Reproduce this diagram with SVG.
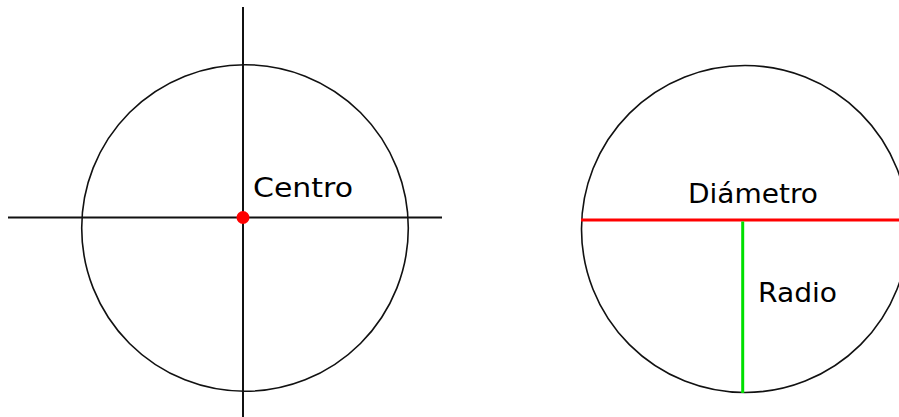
<svg xmlns="http://www.w3.org/2000/svg" width="899" height="417" viewBox="0 0 899 417">
<style>
.circ{fill:none;stroke:#111;stroke-width:1.6}
.axis{stroke:#111;stroke-width:2}
.lbl{font-family:"DejaVu Sans","Liberation Sans",sans-serif;font-size:26px;fill:#000}
</style>
<rect width="899" height="417" fill="#fff"/>
<g id="left-circle">
<circle class="circ" cx="245" cy="228" r="163.3"/>
</g>
<g id="axes">
<line class="axis" x1="243" y1="7" x2="243" y2="417"/>
<line class="axis" x1="8" y1="217.5" x2="442" y2="217.5"/>
</g>
<g id="center-point">
<circle cx="243" cy="217.5" r="6.5" fill="#ff0000"/>
<text class="lbl" x="253" y="197" textLength="100" lengthAdjust="spacingAndGlyphs">Centro</text>
</g>
<g id="right-circle">
<circle class="circ" cx="745" cy="229" r="163.5"/>
</g>
<g id="connectors">
<line id="diameter" x1="581" y1="220" x2="899" y2="220" stroke="#ff0000" stroke-width="3"/>
<line id="radius" x1="742.7" y1="221.5" x2="742.7" y2="393" stroke="#00e000" stroke-width="3"/>
</g>
<g id="labels">
<text class="lbl" x="688" y="203" textLength="130" lengthAdjust="spacingAndGlyphs">Diámetro</text>
<text class="lbl" x="758" y="302" textLength="79" lengthAdjust="spacingAndGlyphs">Radio</text>
</g>
</svg>
